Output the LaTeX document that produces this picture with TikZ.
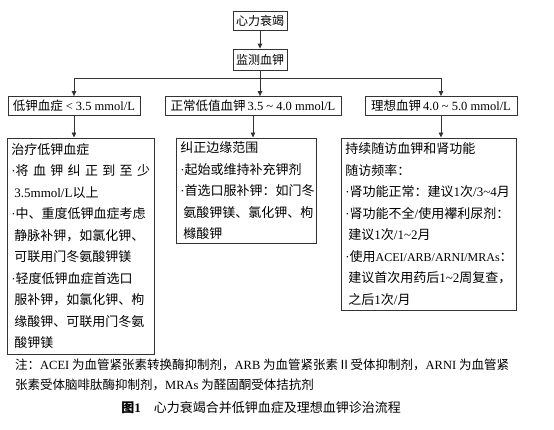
\documentclass[tikz,border=0pt]{standalone}
\usepackage{fontspec}
\setmainfont{Noto Sans CJK SC}
\newfontfamily\lat{Liberation Serif}
\newcommand\bul{{\lat ·}}
\usetikzlibrary{positioning, arrows.meta}

\begin{document}
\begin{tikzpicture}[
    x=1pt, y=-1pt,
    every node/.style={inner sep=0pt, align=center},
    box/.style={draw=black!80, line width=0.8pt, font=\fontsize{12.5}{15}\selectfont},
    plan/.style={draw=black!80, line width=0.8pt, anchor=north west, align=left,
        font=\fontsize{13}{21.5}\selectfont, inner xsep=4pt, inner ysep=4pt},
    arr/.style={draw=black!80, line width=0.8pt, -{Triangle[length=5pt, width=4.5pt]}},
    bus/.style={draw=black!80, line width=0.8pt}
]
\useasboundingbox (0,0) rectangle (554,429);

% Top of the flow
\node[box, font=\fontsize{12}{14}\selectfont, minimum width=54pt, minimum height=19pt] (heart) at (260,20.5) {心力衰竭};
\node[box, font=\fontsize{12}{14}\selectfont, minimum width=54pt, minimum height=21pt] (monitor) at (260,59.5) {监测血钾};
\coordinate (bus) at (0,78);

% Potassium ranges
\node[box, minimum width=132pt, minimum height=19pt] (low) at (74,106) {低钾血症 {\lat < 3.5 mmol/L}};
\node[box, minimum width=176pt, minimum height=19pt] (normal) at (253,106) {正常低值血钾{\lat\,3.5 \textasciitilde{} 4.0 mmol/L}};
\node[box, minimum width=152pt, minimum height=19pt] (ideal) at (441,106) {理想血钾{\lat\,4.0 \textasciitilde{} 5.0 mmol/L}};

% What to do
\node[plan, text width=139pt, minimum height=216.5pt] (treat) at (7,137.5) {治疗低钾血症\\
\makebox[\linewidth][s]{\bul 将 血 钾 纠 正 到 至 少}\\
\hspace*{3pt}{\lat 3.5mmol/L}以上\\
\bul 中、重度低钾血症考虑\\
\hspace*{3pt}静脉补钾，如氯化钾、\\
\hspace*{3pt}可联用门冬氨酸钾镁\\
\bul 轻度低钾血症首选口\\
\hspace*{3pt}服补钾，如氯化钾、枸\\
\hspace*{3pt}缘酸钾、可联用门冬氨\\
\hspace*{3pt}酸钾镁};
\node[plan, text width=132pt, minimum height=105.5pt] (correct) at (176,137.5) {纠正边缘范围\\
\bul 起始或维持补充钾剂\\
\bul 首选口服补钾：如门冬\\
\hspace*{3pt}氨酸钾镁、氯化钾、枸\\
\hspace*{3pt}橼酸钾};
\node[plan, text width=167pt, minimum height=172.5pt] (follow) at (341,137.5) {持续随访血钾和肾功能\\
随访频率：\\
\bul 肾功能正常：建议{\lat 1}次{\lat /3\textasciitilde 4}月\\
\bul 肾功能不全{\lat /}使用襻利尿剂：\\
\hspace*{3pt}建议{\lat 1}次{\lat /1\textasciitilde 2}月\\
\bul 使用{\lat\fontsize{12}{21.5}\selectfont ACEI/ARB/ARNI/MRAs}：\\
\hspace*{3pt}建议首次用药后{\lat 1\textasciitilde 2}周复查，\\
\hspace*{3pt}之后{\lat 1}次{\lat /}月};

% Note and caption
\node[anchor=north west, align=left, font=\fontsize{12.5}{20}\selectfont] (note) at (15,359) {注：{\lat ACEI} 为血管紧张素转换酶抑制剂，{\lat ARB} 为血管紧张素Ⅱ受体抑制剂，{\lat ARNI} 为血管紧\\
张素受体脑啡肽酶抑制剂，{\lat MRAs} 为醛固酮受体拮抗剂};
\node[font=\fontsize{13}{15}\selectfont] (caption) at (261,407.5) {{\bfseries 图{\lat 1}}\quad 心力衰竭合并低钾血症及理想血钾诊治流程};

% Arrows
\draw[arr] (heart) -- (monitor);
\draw[arr] (monitor.south) -- (monitor.south |- normal.north);
\draw[bus] (low.north |- bus) -- (ideal.north |- bus);
\draw[arr] (low.north |- bus) -- (low.north);
\draw[arr] (ideal.north |- bus) -- (ideal.north);
\draw[arr] (low.south) -- (low.south |- treat.north);
\draw[arr] (normal.south) -- (normal.south |- correct.north);
\draw[arr] (ideal.south) -- (ideal.south |- follow.north);
\end{tikzpicture}
\end{document}
